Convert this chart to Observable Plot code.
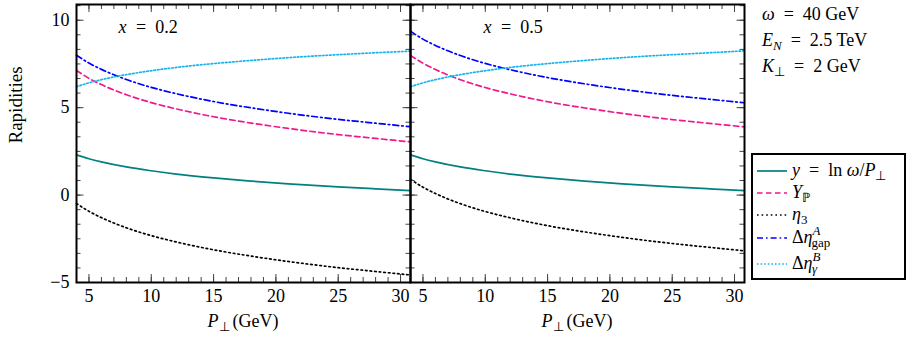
<!DOCTYPE html>
<html>
<head>
<meta charset="utf-8">
<script src="https://cdn.jsdelivr.net/npm/d3@7"></script>
<script src="https://cdn.jsdelivr.net/npm/@observablehq/plot@0.6"></script>
<style>
  html, body { margin: 0; padding: 0; background: #fff; }
  #chart { position: relative; width: 907px; height: 340px; }
</style>
</head>
<body>
<div id="chart"></div>
<script>
// ---------- data ----------
const pT = [4, 5, 6, 8, 10, 12, 15, 18, 21, 25, 28, 30.8];   // P_perp (GeV)
const panels = ["0.2", "0.5"];
const panelValues = ["0.2", "0.5"];

// panel x = 0.2
const y_x02      = [2.30, 2.08, 1.90, 1.61, 1.39, 1.20, 0.98, 0.80, 0.64, 0.47, 0.36, 0.26];
const YP_x02     = [7.13, 6.68, 6.32, 5.74, 5.29, 4.93, 4.48, 4.12, 3.81, 3.46, 3.24, 3.04];
const eta3_x02   = [-0.48, -0.93, -1.29, -1.87, -2.32, -2.68, -3.13, -3.49, -3.80, -4.15, -4.37, -4.57];
const gapA_x02   = [8.00, 7.55, 7.19, 6.61, 6.16, 5.80, 5.35, 4.99, 4.68, 4.33, 4.11, 3.91];
const gamB_x02   = [6.20, 6.42, 6.60, 6.89, 7.11, 7.30, 7.52, 7.70, 7.86, 8.03, 8.14, 8.23];
// panel x = 0.5
const y_x05      = [2.30, 2.08, 1.90, 1.61, 1.39, 1.20, 0.98, 0.80, 0.64, 0.47, 0.36, 0.26];
const YP_x05     = [7.99, 7.54, 7.18, 6.60, 6.15, 5.79, 5.34, 4.98, 4.67, 4.32, 4.10, 3.90];
const eta3_x05   = [0.90, 0.45, 0.09, -0.49, -0.94, -1.30, -1.75, -2.11, -2.42, -2.77, -2.99, -3.19];
const gapA_x05   = [9.37, 8.92, 8.56, 7.98, 7.53, 7.17, 6.72, 6.36, 6.05, 5.70, 5.48, 5.28];
const gamB_x05   = [6.20, 6.42, 6.60, 6.89, 7.11, 7.30, 7.52, 7.70, 7.86, 8.03, 8.14, 8.25];

const seriesKeys = ["y", "YP", "eta3", "gapA", "gamB"];
const xMajorTicks = [5, 10, 15, 20, 25, 30];
const yMajorTicks = [-5, 0, 5, 10];
const yAxisLabel = "Rapidities";

const annotationParts = [
  [{t: "ω", i: 1}, {t: "\u2002=\u200240 GeV"}],
  [{t: "E", i: 1}, {t: "N", i: 1, size: 13, shift: 4}, {t: "\u2002=\u20022.5 TeV"}],
  [{t: "K", i: 1}, {t: "⊥", size: 13, shift: 4}, {t: "\u2002=\u20022 GeV"}]
];
const legendParts = [
  [{t: "y", i: 1}, {t: "\u2002=\u2002ln "}, {t: "ω", i: 1}, {t: "/"}, {t: "P", i: 1}, {t: "⊥", size: 13, shift: 4}],
  [{t: "Y", i: 1}, {t: "ℙ", size: 13, shift: 4}],
  [{t: "η", i: 1}, {t: "3", size: 13, shift: 4}],
  [{t: "Δ"}, {t: "η", i: 1}, {t: "A", i: 1, size: 13, shift: -8}, {t: "gap", size: 13, shift: 4, ml: -9}],
  [{t: "Δ"}, {t: "η", i: 1}, {t: "B", i: 1, size: 13, shift: -8}, {t: "γ", i: 1, size: 13, shift: 4, ml: -8.5}]
];

// ---------- build table ----------
const seriesData = {
  "0.2": {y: y_x02, YP: YP_x02, eta3: eta3_x02, gapA: gapA_x02, gamB: gamB_x02},
  "0.5": {y: y_x05, YP: YP_x05, eta3: eta3_x05, gapA: gapA_x05, gamB: gamB_x05}
};
const rows = [];
for (const panel of panels)
  for (const key of seriesKeys)
    seriesData[panel][key].forEach((v, i) => rows.push({panel, series: key, P: pT[i], v}));

// ---------- styles ----------
const styles = {
  y:    {stroke: "#008080", dash: "none",          width: 1.7},
  YP:   {stroke: "#f0188c", dash: "5.5,3.5",       width: 1.7},
  eta3: {stroke: "#000000", dash: "1.6,3",         width: 1.7},
  gapA: {stroke: "#0000ff", dash: "6,3,1.6,3",     width: 1.7},
  gamB: {stroke: "#14b4f0", dash: "1.6,2",         width: 1.7}
};
const FONT = "Liberation Serif";
const plotH = 340 - 4 - 58;
const facetW = (907 - 75 - 163) / 2;
const xMinor = d3.range(5, 31, 1);
const yMinor = d3.range(-5, 10.9, 5 / 6);

const marks = [];
for (const k of seriesKeys) {
  marks.push(Plot.line(rows.filter(d => d.series === k), {
    x: "P", y: "v", fx: "panel", curve: "monotone-x",
    stroke: styles[k].stroke, strokeWidth: styles[k].width, strokeDasharray: styles[k].dash
  }));
}
// inward tick marks on all four sides of each panel
marks.push(Plot.tickX(xMinor,      {x: d => d, insetTop: plotH - 5, stroke: "#444", strokeWidth: 1}));
marks.push(Plot.tickX(xMajorTicks, {x: d => d, insetTop: plotH - 8, stroke: "#444", strokeWidth: 1}));
marks.push(Plot.tickX(xMinor,      {x: d => d, insetBottom: plotH - 5, stroke: "#444", strokeWidth: 1}));
marks.push(Plot.tickX(xMajorTicks, {x: d => d, insetBottom: plotH - 8, stroke: "#444", strokeWidth: 1}));
marks.push(Plot.tickY(yMinor,      {y: d => d, insetRight: facetW - 5, stroke: "#444", strokeWidth: 1}));
marks.push(Plot.tickY(yMajorTicks, {y: d => d, insetRight: facetW - 8, stroke: "#444", strokeWidth: 1}));
marks.push(Plot.tickY(yMinor,      {y: d => d, insetLeft: facetW - 5, stroke: "#444", strokeWidth: 1}));
marks.push(Plot.tickY(yMajorTicks, {y: d => d, insetLeft: facetW - 8, stroke: "#444", strokeWidth: 1}));
// tick labels
marks.push(Plot.axisX({ticks: xMajorTicks, tickSize: 0, tickPadding: 7, label: null, tickFormat: d => String(d), facetAnchor: null}));
marks.push(Plot.axisY({ticks: yMajorTicks, tickSize: 0, tickPadding: 7, label: null, tickFormat: d => d < 0 ? "−" + Math.abs(d) : String(d)}));
marks.push(Plot.frame({stroke: "#000", strokeWidth: 2}));
// panel labels: italic variable + value
const panelDx = [42, 73];
panels.forEach((p, i) => {
  marks.push(Plot.text([{panel: p, t: "x"}], {fx: "panel", text: "t", frameAnchor: "top-left", textAnchor: "start", lineAnchor: "middle", dx: panelDx[i], dy: 23, fontStyle: "italic"}));
  marks.push(Plot.text([{panel: p, t: "\u2002=\u2002" + panelValues[i]}], {fx: "panel", text: "t", frameAnchor: "top-left", textAnchor: "start", lineAnchor: "middle", dx: panelDx[i] + 8.5, dy: 23}));
});
// x axis title in each panel: P (italic), ⊥ (subscript), (GeV)
marks.push(Plot.text(["P"], {text: d => d, frameAnchor: "bottom", textAnchor: "start", dx: -36, dy: 44, fontStyle: "italic"}));
marks.push(Plot.text(["⊥"], {text: d => d, frameAnchor: "bottom", textAnchor: "start", dx: -25, dy: 48, fontSize: 13}));
marks.push(Plot.text(["(GeV)"], {text: d => d, frameAnchor: "bottom", textAnchor: "start", dx: -11, dy: 44}));
// y axis title
marks.push(Plot.text([{panel: panels[0], t: yAxisLabel}], {fx: "panel", text: "t", frameAnchor: "left", rotate: -90, dx: -61, fontSize: 19}));

const chart = Plot.plot({
  width: 907, height: 340,
  marginLeft: 75, marginRight: 163, marginTop: 4, marginBottom: 58,
  style: {fontFamily: FONT, fontSize: "18px"},
  fx: {domain: panels, padding: 0, axis: null, label: null},
  x: {domain: [4, 30.8], label: null, axis: null},
  y: {domain: [-5, 10.9], label: null, axis: null},
  marks
});
document.getElementById("chart").appendChild(chart);

// ---------- right-hand side: annotations and legend (HTML overlay) ----------
const overlay = d3.select("#chart").append("div")
  .style("position", "absolute").style("left", "0px").style("top", "0px")
  .style("width", "907px").style("height", "340px")
  .style("font-family", FONT).style("font-size", "18px").style("color", "#000");

const legSvg = overlay.append("svg").attr("width", 907).attr("height", 340)
  .style("position", "absolute").style("left", "0px").style("top", "0px");
legSvg.append("rect").attr("x", 752).attr("y", 154).attr("width", 153).attr("height", 125)
  .attr("fill", "#fff").attr("stroke", "#000").attr("stroke-width", 2);
const legY = [171, 193, 215, 238, 264];
seriesKeys.forEach((k, i) => {
  legSvg.append("line").attr("x1", 757).attr("x2", 787).attr("y1", legY[i]).attr("y2", legY[i])
    .attr("stroke", styles[k].stroke).attr("stroke-width", styles[k].width)
    .attr("stroke-dasharray", styles[k].dash);
});

function richLine(x, baseline, parts) {
  const div = overlay.append("div")
    .style("position", "absolute").style("left", x + "px").style("top", (baseline - 15) + "px")
    .style("line-height", "18px").style("white-space", "nowrap");
  for (const p of parts) {
    const s = div.append("span").text(p.t);
    if (p.i) s.style("font-style", "italic");
    if (p.size) s.style("font-size", p.size + "px");
    if (p.shift) s.style("position", "relative").style("top", p.shift + "px");
    if (p.ml) s.style("margin-left", p.ml + "px");
  }
}
const annBaselines = [19.5, 45.5, 72];
annotationParts.forEach((parts, i) => richLine(762, annBaselines[i], parts));
legendParts.forEach((parts, i) => richLine(792, legY[i] + 5, parts));
</script>
</body>
</html>
